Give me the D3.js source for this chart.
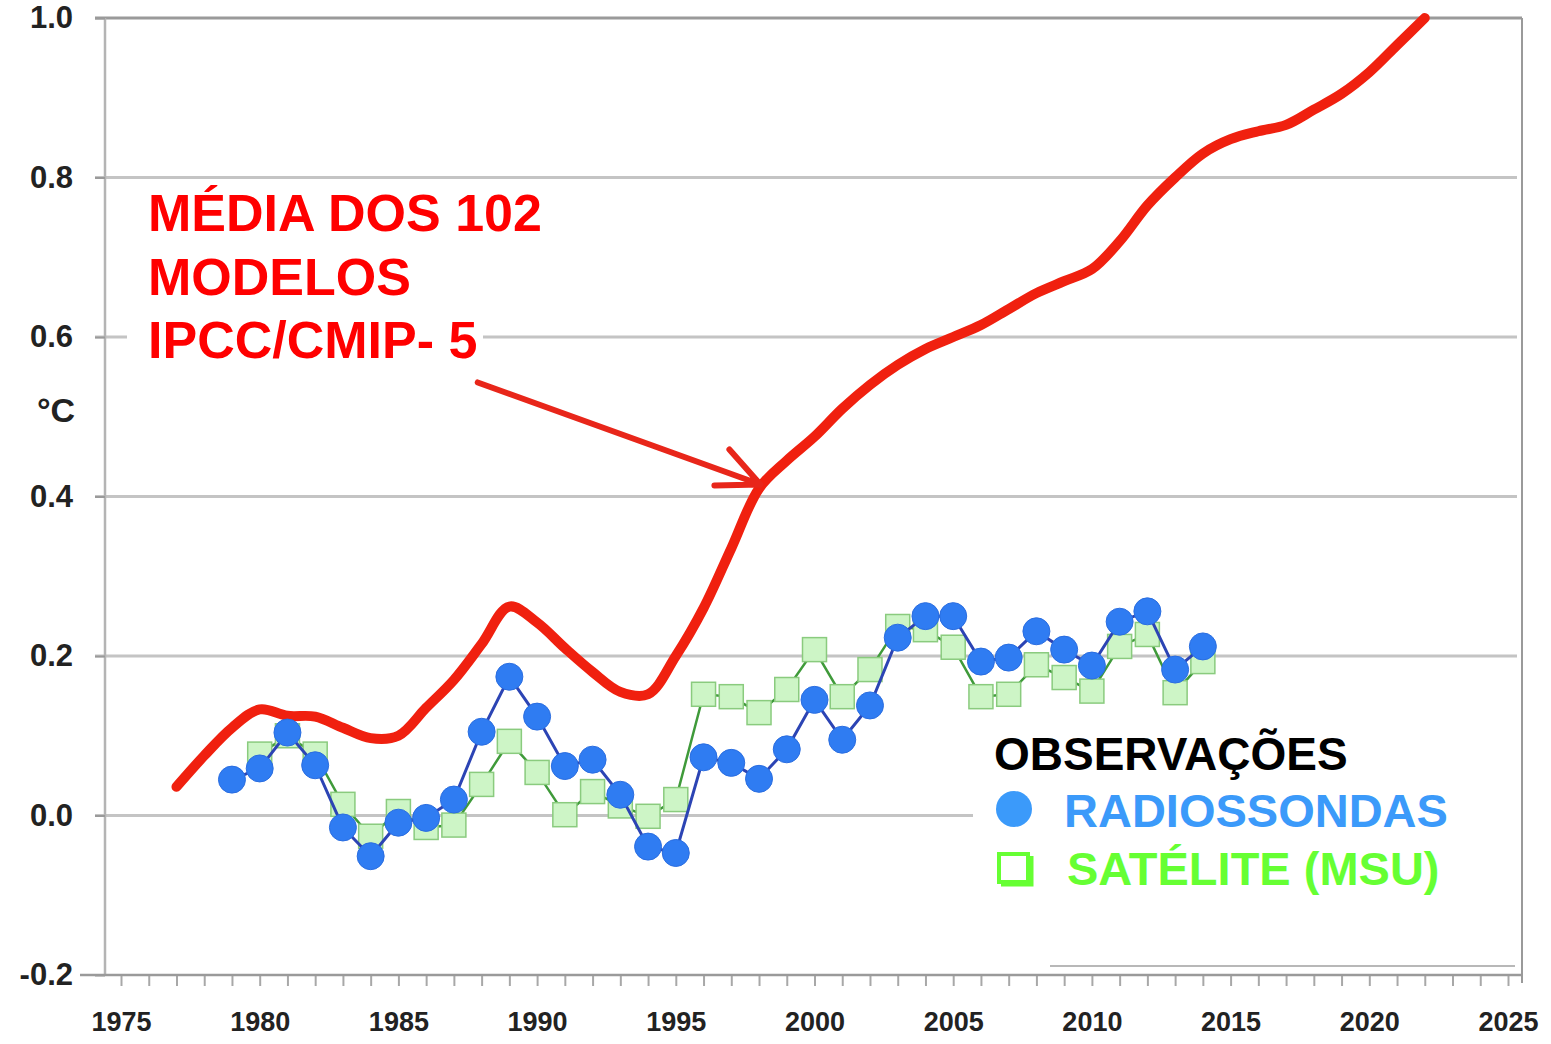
<!DOCTYPE html>
<html>
<head>
<meta charset="utf-8">
<script src="https://cdn.jsdelivr.net/npm/d3@7"></script>
<style>
  html, body { margin: 0; padding: 0; background: #fff; }
  svg { display: block; font-family: "Liberation Sans", Arial, sans-serif; }
</style>
</head>
<body>
<svg id="chart" width="1551" height="1044"></svg>
<script>
// média dos modelos (1977-2022)
const modelYears = d3.range(1977, 2023);
const modelMean = [0.036, 0.075, 0.11, 0.133, 0.125, 0.124, 0.11, 0.097, 0.10, 0.135,
  0.17, 0.215, 0.262, 0.242, 0.21, 0.18, 0.155, 0.152, 0.20, 0.26,
  0.335, 0.41, 0.445, 0.475, 0.51, 0.54, 0.565, 0.585, 0.60, 0.615,
  0.635, 0.655, 0.67, 0.685, 0.72, 0.765, 0.80, 0.83, 0.848, 0.858,
  0.866, 0.885, 0.905, 0.932, 0.966, 1.0];

// radiossondas (1979-2014)
const radYears = d3.range(1979, 2015);
const radiosondas = [0.045, 0.059, 0.104, 0.063, -0.015, -0.051, -0.009, -0.003, 0.02, 0.105,
  0.174, 0.124, 0.062, 0.070, 0.026, -0.039, -0.047, 0.073, 0.066, 0.046,
  0.083, 0.145, 0.095, 0.138, 0.223, 0.25, 0.25, 0.193, 0.198, 0.231,
  0.208, 0.188, 0.243, 0.256, 0.183, 0.212];

// satélite MSU (1980-2014)
const satYears = d3.range(1980, 2015);
const satelite = [0.077, 0.10, 0.077, 0.014, -0.026, 0.005, -0.015, -0.012, 0.039,
  0.093, 0.054, 0.001, 0.03, 0.012, -0.001, 0.02, 0.152, 0.149, 0.129,
  0.158, 0.208, 0.149, 0.183, 0.237, 0.233, 0.211, 0.149, 0.152, 0.189,
  0.173, 0.156, 0.212, 0.227, 0.154, 0.193];

const yTicks = [-0.2, 0.0, 0.2, 0.4, 0.6, 0.8, 1.0];
const gridTicks = [0.0, 0.2, 0.4, 0.6, 0.8];
const xYears = d3.range(1975, 2026);
const annotLines = ["MÉDIA DOS 102", "MODELOS", "IPCC/CMIP- 5"];

const svg = d3.select('#chart');
const frame = { left: 105, right: 1522, top: 18, bottom: 975 };

const x = d3.scaleLinear().domain([1975, 2025]).range([121, 1508]);
const y = d3.scaleLinear().domain([-0.2, 1.0]).range([975, 18]);

// linhas de grade
svg.append('g')
  .selectAll('line')
  .data(gridTicks)
  .join('line')
  .attr('x1', frame.left - 10)
  .attr('x2', frame.right - 5)
  .attr('y1', d => y(d))
  .attr('y2', d => y(d))
  .attr('stroke', '#c4c4c4')
  .attr('stroke-width', 3);

// caixa branca atrás da anotação (cobre parte da grade)
svg.append('rect')
  .attr('x', 127).attr('y', 186)
  .attr('width', 356).attr('height', 197)
  .attr('fill', '#fff');

// moldura
svg.append('line')
  .attr('x1', frame.left - 10).attr('x2', frame.right)
  .attr('y1', y(1.0)).attr('y2', y(1.0))
  .attr('stroke', '#9a9a9a').attr('stroke-width', 3);
svg.append('line')
  .attr('x1', frame.right).attr('x2', frame.right)
  .attr('y1', frame.top).attr('y2', frame.bottom + 8)
  .attr('stroke', '#9a9a9a').attr('stroke-width', 2);
svg.append('line')
  .attr('x1', frame.left).attr('x2', frame.left)
  .attr('y1', frame.top).attr('y2', frame.bottom)
  .attr('stroke', '#b4b4b4').attr('stroke-width', 2.5);

// eixo Y
const yAxis = d3.axisLeft(y)
  .tickValues(yTicks)
  .tickSize(10)
  .tickPadding(22)
  .tickFormat(d => d3.format('.1f')(d).replace('−', '-'));

const gy = svg.append('g')
  .attr('transform', `translate(${frame.left},0)`)
  .call(yAxis);
gy.select('.domain').remove();
gy.selectAll('line').attr('stroke', '#9a9a9a').attr('stroke-width', 2);
gy.selectAll('text')
  .attr('font-size', 31)
  .attr('font-weight', 'bold')
  .attr('fill', '#222')
  .attr('font-family', '"Liberation Sans", Arial, sans-serif');

svg.append('text')
  .attr('x', 37).attr('y', 422)
  .attr('font-size', 34).attr('font-weight', 'bold').attr('fill', '#222')
  .text('°C');

// eixo X
const xAxis = d3.axisBottom(x)
  .tickValues(xYears)
  .tickSize(11)
  .tickPadding(26)
  .tickFormat(d => d % 5 === 0 ? d : '');

const gx = svg.append('g')
  .attr('transform', `translate(0,${frame.bottom})`)
  .call(xAxis);
gx.select('.domain').remove();
gx.selectAll('line').attr('stroke', '#a8a8a8').attr('stroke-width', 2);
gx.selectAll('text')
  .attr('font-size', 27)
  .attr('font-weight', 'bold')
  .attr('fill', '#222')
  .attr('font-family', '"Liberation Sans", Arial, sans-serif');

svg.append('line')
  .attr('x1', 80).attr('x2', frame.right)
  .attr('y1', frame.bottom).attr('y2', frame.bottom)
  .attr('stroke', '#9a9a9a').attr('stroke-width', 2.5);

// curva dos modelos
const redLine = d3.line()
  .x(d => x(d[0]))
  .y(d => y(d[1]))
  .curve(d3.curveCatmullRom.alpha(0.5));

svg.append('path')
  .datum(modelYears.map((yr, i) => [yr, modelMean[i]]))
  .attr('d', redLine)
  .attr('fill', 'none')
  .attr('stroke', '#f0200f')
  .attr('stroke-width', 10)
  .attr('stroke-linejoin', 'round')
  .attr('stroke-linecap', 'round');

// satélite (MSU)
const satData = satYears.map((yr, i) => [yr, satelite[i]]);
const radData = radYears.map((yr, i) => [yr, radiosondas[i]]);
const obsLine = d3.line().x(d => x(d[0])).y(d => y(d[1]));

svg.append('path')
  .datum(satData)
  .attr('d', obsLine)
  .attr('fill', 'none')
  .attr('stroke', '#3f9a3a')
  .attr('stroke-width', 2.5);

const sq = 24;
svg.append('g')
  .selectAll('rect')
  .data(satData)
  .join('rect')
  .attr('x', d => x(d[0]) - sq / 2)
  .attr('y', d => y(d[1]) - sq / 2)
  .attr('width', sq)
  .attr('height', sq)
  .attr('fill', '#cdf5c6')
  .attr('stroke', '#8acb7e')
  .attr('stroke-width', 1.5);

// radiossondas
svg.append('path')
  .datum(radData)
  .attr('d', obsLine)
  .attr('fill', 'none')
  .attr('stroke', '#2c44b4')
  .attr('stroke-width', 3);

svg.append('g')
  .selectAll('circle')
  .data(radData)
  .join('circle')
  .attr('cx', d => x(d[0]))
  .attr('cy', d => y(d[1]))
  .attr('r', 13.5)
  .attr('fill', '#2f7cf2')
  .attr('stroke', '#2a6de0')
  .attr('stroke-width', 1);

// anotação
const annot = svg.append('g');
annotLines.forEach((t, i) => {
  annot.append('text')
    .attr('x', 148)
    .attr('y', 231 + i * 63.5)
    .attr('font-size', 52)
    .attr('font-weight', 'bold')
    .attr('fill', '#ff0000')
    .text(t);
});

// seta apontando para a curva
const arrowFrom = [1987.86, 0.543];
const arrowTo = [1998.05, 0.415];
const tx = x(arrowTo[0]), ty = y(arrowTo[1]);
svg.append('path')
  .attr('d', `M${x(arrowFrom[0])},${y(arrowFrom[1])}L${tx},${ty}`
    + `M${tx - 31},${ty - 35}L${tx},${ty}L${tx - 46},${ty + 1}`)
  .attr('fill', 'none')
  .attr('stroke', '#e8261a')
  .attr('stroke-width', 6)
  .attr('stroke-linejoin', 'round')
  .attr('stroke-linecap', 'round');

// legenda
const leg = svg.append('g');
leg.append('rect')
  .attr('x', 973).attr('y', 712)
  .attr('width', 545).attr('height', 254)
  .attr('fill', '#fff');
leg.append('line')
  .attr('x1', 1050).attr('x2', 1515)
  .attr('y1', 966).attr('y2', 966)
  .attr('stroke', '#a0a0a0').attr('stroke-width', 1.5);

leg.append('text')
  .attr('x', 994).attr('y', 770)
  .attr('font-size', 46).attr('font-weight', 'bold').attr('fill', '#000')
  .text('OBSERVAÇÕES');

leg.append('circle')
  .attr('cx', 1014).attr('cy', 809).attr('r', 18)
  .attr('fill', '#3b9afa');
leg.append('text')
  .attr('x', 1064).attr('y', 827)
  .attr('font-size', 47).attr('font-weight', 'bold').attr('fill', '#3b9afa')
  .text('RADIOSSONDAS');

leg.append('path')
  .attr('d', 'M999,854H1028V882H999Z')
  .attr('fill', 'none')
  .attr('stroke', '#66ff33')
  .attr('stroke-width', 4);
leg.append('path')
  .attr('d', 'M1001,884H1031V856')
  .attr('fill', 'none')
  .attr('stroke', '#66ff33')
  .attr('stroke-width', 5);
leg.append('text')
  .attr('x', 1067).attr('y', 885)
  .attr('font-size', 47).attr('font-weight', 'bold').attr('fill', '#66ff33')
  .text('SATÉLITE (MSU)');
</script>
</body>
</html>
